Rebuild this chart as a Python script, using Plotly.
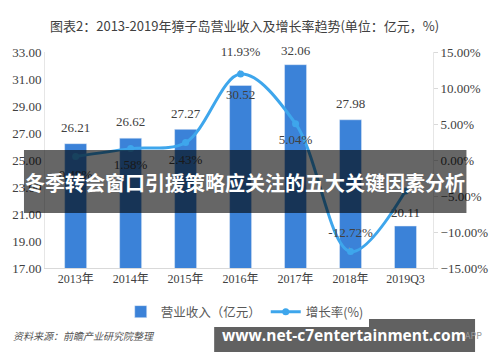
import plotly.graph_objects as go

categories = ["2013年", "2014年", "2015年", "2016年", "2017年", "2018年", "2019Q3"]
revenue = [26.21, 26.62, 27.27, 30.52, 32.06, 27.98, 20.11]
growth = [0.48, 1.58, 2.43, 11.93, 5.04, -12.72, -4.3]
growth_labels = ["0.48%", "1.58%", "2.43%", "11.93%", "5.04%", "-12.72%", ""]
revenue_labels = [f"{v:.2f}" for v in revenue]

title_text = "图表2：2013-2019年獐子岛营业收入及增长率趋势(单位：亿元，%)"
banner_text = "冬季转会窗口引援策略应关注的五大关键因素分析"
site_text = "www.net-c7entertainment.com"
source_text = "资料来源：前瞻产业研究院整理"

serif = "Liberation Serif, Noto Sans CJK SC, serif"
sans = "Noto Sans CJK SC, Noto Sans, sans-serif"

bar_label_pos = ["top center", "top center", "top center", "bottom center",
                 "top center", "top center", "top center"]
bar_label_gap = [12, 12, 12, 4, 8, 12, 8]
line_label_pos = ["bottom center", "bottom center", "bottom center", "top center",
                  "bottom center", "top center", "bottom center"]
line_label_gap = [18, 16, 17, 22, 16, 17, 10]

L, T, W, H = 41, 52, 406, 216


def px(x):
    return (x - L) / W


def py(y):
    return (T + H - y) / H


fig = go.Figure()
fig.add_trace(go.Bar(
    x=categories, y=revenue, name="营业收入（亿元）",
    marker=dict(color="#3b82d8"), width=0.4, hoverinfo="skip",
))
fig.add_trace(go.Scatter(
    x=categories, y=revenue, mode="markers+text", showlegend=False, hoverinfo="skip",
    text=revenue_labels, textposition=bar_label_pos,
    marker=dict(size=bar_label_gap, opacity=0, line=dict(width=0)),
    textfont=dict(family=serif, size=13, color="#404040"), cliponaxis=False,
))
fig.add_trace(go.Scatter(
    x=categories, y=growth, name="增长率(%)", yaxis="y2", hoverinfo="skip",
    mode="lines+markers", line=dict(color="#3ea6ec", width=3, shape="spline", smoothing=1.0),
    marker=dict(size=7, color="#3ea6ec"), cliponaxis=False,
))
fig.add_trace(go.Scatter(
    x=categories, y=growth, yaxis="y2", mode="markers+text", showlegend=False, hoverinfo="skip",
    text=growth_labels, textposition=line_label_pos,
    marker=dict(size=line_label_gap, opacity=0, line=dict(width=0)),
    textfont=dict(family=serif, size=13, color="#404040"), cliponaxis=False,
))

fig.update_layout(
    width=500, height=362,
    margin=dict(l=L, r=500 - L - W, t=T, b=362 - T - H),
    paper_bgcolor="white", plot_bgcolor="white",
    showlegend=True,
    legend=dict(orientation="h", x=px(250), xanchor="center", y=py(312), yanchor="middle",
                font=dict(family=sans, size=12.5, color="#595959")),
    xaxis=dict(showline=True, linecolor="#d9d9d9", ticks="", showgrid=False,
               tickfont=dict(family=serif, size=12, color="#404040")),
    yaxis=dict(range=[17, 33], tick0=17, dtick=2, tickformat=".2f", showgrid=False,
               showline=True, linecolor="#e6e6e6", ticks="", zeroline=False,
               tickfont=dict(family=serif, size=13, color="#404040")),
    yaxis2=dict(range=[-15, 15], tick0=-15, dtick=5, overlaying="y", side="right",
                tickformat=".2f", ticksuffix="%", showgrid=False, zeroline=False,
                showline=True, linecolor="#e6e6e6", ticks="outside", ticklen=4,
                tickcolor="#d9d9d9",
                tickfont=dict(family=serif, size=13, color="#404040")),
)

# leader lines for two growth labels
for i in (3, 5):
    fig.add_annotation(x=categories[i], y=growth[i], xref="x", yref="y2", text=" ",
                       showarrow=True, arrowhead=0, arrowwidth=0.8, arrowcolor="#999999",
                       ax=-4, ay=-14, standoff=3)

# title
fig.add_annotation(text=title_text, xref="paper", yref="paper", x=px(250), y=py(25),
                   xanchor="center", yanchor="middle", showarrow=False,
                   font=dict(family=sans, size=13, color="#404040"))
# source
fig.add_annotation(text="<i>" + source_text + "</i>", xref="paper", yref="paper", x=px(5), y=py(335),
                   xanchor="left", yanchor="middle", showarrow=False,
                   font=dict(family=sans, size=10, color="#555555"))
fig.add_annotation(text="APP", xref="paper", yref="paper", x=px(500), y=py(335),
                   xanchor="right", yanchor="middle", showarrow=False,
                   font=dict(family=sans, size=9, color="#999999"))

# banner shapes
fig.add_shape(type="rect", xref="paper", yref="paper",
              x0=px(19), x1=px(482), y0=py(213), y1=py(150),
              fillcolor="rgba(0,0,0,0.6)", line=dict(width=0), layer="above")
fig.add_annotation(text="<b>" + banner_text + "</b>", xref="paper", yref="paper",
                   x=px(250), y=py(182), xanchor="center", yanchor="middle", showarrow=False,
                   font=dict(family=sans, size=20, color="white"))
fig.add_shape(type="rect", xref="paper", yref="paper",
              x0=px(218), x1=px(491), y0=py(352), y1=py(319),
              fillcolor="rgba(0,0,0,0.62)", line=dict(width=0), layer="above")
fig.add_annotation(text="<b>" + site_text + "</b>", xref="paper", yref="paper",
                   x=px(354), y=py(335), xanchor="center", yanchor="middle", showarrow=False,
                   font=dict(family="Open Sans, DejaVu Sans, sans-serif", size=15.5, color="white"))

fig.write_html("out.html", config={"displayModeBar": False},
               post_script="document.body.style.margin='0';")
